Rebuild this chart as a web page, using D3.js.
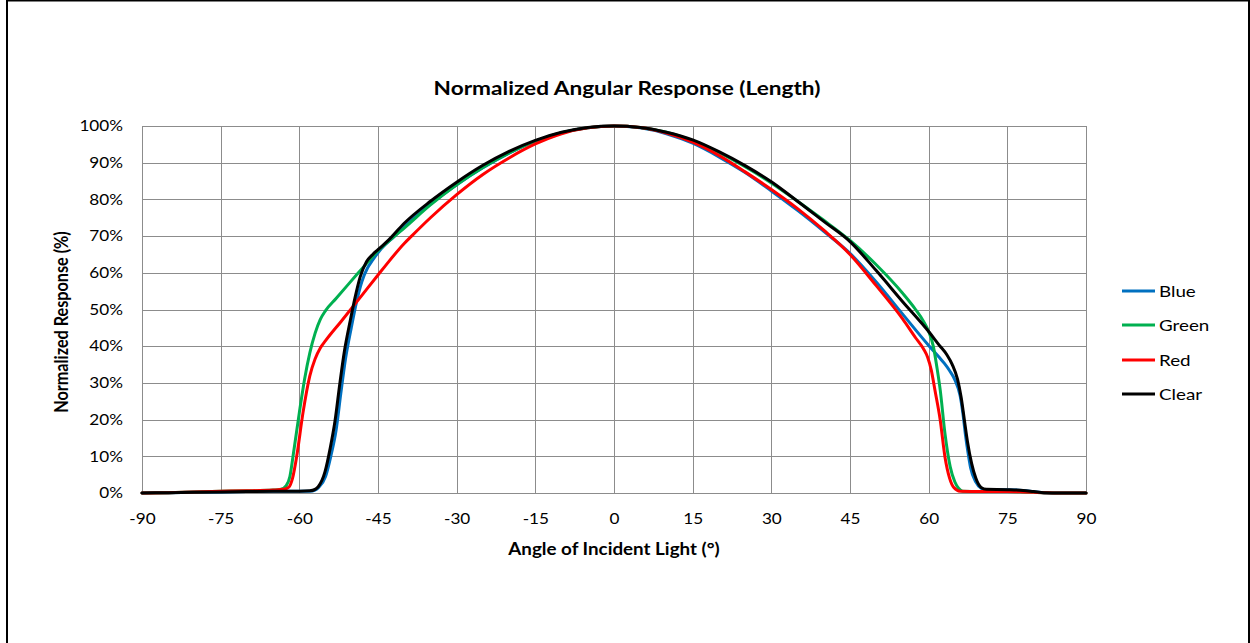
<!DOCTYPE html>
<html>
<head>
<meta charset="utf-8">
<script src="https://cdn.jsdelivr.net/npm/d3@7"></script>
<style>
  html, body { margin: 0; padding: 0; background: #fff; }
  svg { display: block; }
  text { font-family: Lato, "Open Sans", "Liberation Sans", sans-serif; fill: #000; }
</style>
</head>
<body>
<svg id="chart" width="1250" height="643"></svg>
<script>
// ---- data ----
const xTicks = [-90, -75, -60, -45, -30, -15, 0, 15, 30, 45, 60, 75, 90];
const yTicks = [0, 10, 20, 30, 40, 50, 60, 70, 80, 90, 100];
const seriesNames = ["Blue", "Green", "Red", "Clear"];
const seriesColors = ["#0070C0", "#00B050", "#FF0000", "#000000"];

const blueAngles = [-90, -85, -80, -75, -70, -65, -60, -58, -57, -56.4, -55, -54, -53, -52.1, -51.2, -50.1, -49.1, -48.1, -47, -46, -44.7, -42, -40, -35, -30, -25, -20, -15, -10, -5, 0, 5, 10, 15, 20, 25, 30, 35, 40, 45, 50, 55, 60, 62, 63, 64, 65, 66, 66.5, 67, 67.5, 68, 69, 70, 71, 75, 78, 80, 82, 85, 90];
const blueValues = [0, 0.1, 0.2, 0.3, 0.4, 0.5, 0.5, 0.5, 0.8, 1.4, 4.5, 10, 17, 27, 36.5, 45, 52, 57.5, 61.3, 63.5, 66, 69.8, 72.5, 78.7, 84, 88.6, 92.6, 95.9, 98.2, 99.55, 100, 99.5, 97.9, 95.3, 91.6, 87.3, 82.3, 77, 71.3, 65.3, 57.5, 48.8, 40.2, 37, 35.3, 33.3, 30.8, 26.5, 22, 16, 11, 6.8, 3, 1.3, 0.9, 0.9, 0.7, 0.4, 0.1, 0, 0];

const greenAngles = [-90, -85, -80, -75, -70, -65, -63.5, -62.5, -61.8, -61.2, -60, -59, -58, -57, -56, -55, -53, -51, -49, -47.2, -45.3, -42, -40, -35, -30, -25, -20, -15, -10, -5, 0, 5, 10, 15, 20, 25, 30, 35, 40, 45, 50, 55, 57.5, 59, 60, 60.9, 61.6, 62.2, 63.1, 64.1, 65, 65.7, 66.5, 70, 75, 78, 80, 82, 85, 90];
const greenValues = [0, 0.1, 0.3, 0.5, 0.6, 0.8, 1.0, 2.0, 4.5, 10, 21.9, 31, 38.2, 43.5, 47.3, 49.7, 53, 56.3, 59.6, 62.5, 65.6, 69.8, 72.2, 78.5, 84, 88.7, 92.7, 95.9, 98.2, 99.55, 100, 99.6, 98.3, 96, 92.8, 88.9, 84.5, 79.5, 74.3, 68.8, 62.2, 54.5, 50, 46.8, 44, 39.9, 34, 28.1, 16.3, 7.2, 3, 1.3, 0.5, 0.4, 0.4, 0.3, 0.2, 0.1, 0, 0];

const redAngles = [-90, -85, -80, -75, -70, -65, -63, -62, -61.3, -60.5, -59.3, -58, -57, -56, -55, -52, -48, -45, -43.6, -40, -38.6, -35, -30, -25, -20, -15, -10, -5, 0, 5, 10, 15, 20, 25, 30, 35, 40, 45, 50, 55, 57.5, 59, 59.8, 60.5, 61.2, 62.2, 63.1, 64, 64.8, 66, 70, 75, 78, 80, 82, 85, 90];
const redValues = [0, 0.1, 0.3, 0.5, 0.6, 0.8, 1.0, 1.6, 4, 10, 21.9, 31.9, 36.5, 39.5, 41.5, 46.8, 54, 59.4, 61.9, 68, 70, 75, 81.3, 86.8, 91.3, 95.1, 97.9, 99.5, 100, 99.6, 98.1, 95.6, 92, 87.5, 82.7, 77.5, 71.6, 65, 56.5, 47.5, 42.3, 39.3, 37, 33.5, 28, 19.9, 9.9, 4, 1.5, 0.5, 0.4, 0.4, 0.3, 0.2, 0.1, 0, 0];

const clearAngles = [-90, -85, -80, -75, -70, -65, -60, -58, -57, -56.4, -55.1, -54.1, -53.2, -52.3, -51.4, -50.3, -49.4, -48.4, -47.2, -46, -45, -43, -40, -35, -30, -25, -20, -15, -10, -5, 0, 5, 10, 15, 20, 25, 30, 35, 40, 45, 50, 55, 60, 62, 63.5, 64.5, 65.5, 66.2, 66.8, 67.4, 68.2, 69, 70, 71, 75, 78, 80, 82, 85, 90];
const clearValues = [0, 0.1, 0.2, 0.3, 0.4, 0.5, 0.5, 0.6, 1.0, 1.7, 5.8, 12.3, 19.6, 29.6, 38.7, 46.9, 53.1, 58.9, 63, 65, 66.3, 68.9, 73.5, 79.5, 84.7, 89.3, 93.1, 96.1, 98.3, 99.6, 100, 99.6, 98.3, 96.2, 93, 89.2, 84.8, 79.5, 74, 68.5, 60.6, 52.2, 44, 40.3, 37.6, 35, 31, 26, 20, 14, 8, 4, 1.5, 1.0, 0.9, 0.7, 0.4, 0.1, 0, 0];

const allAngles = [blueAngles, greenAngles, redAngles, clearAngles];
const allValues = [blueValues, greenValues, redValues, clearValues];

// ---- layout ----
const SX = 1.16; // horizontal text stretch seen in the reference
const svg = d3.select("#chart");
const plot = { left: 142, right: 1086, top: 126, bottom: 493 };

// outer frame
svg.append("rect").attr("x", 7).attr("y", 0.5).attr("width", 1242).attr("height", 660)
  .attr("fill", "none").attr("stroke", "#000").attr("stroke-width", 2);

const x = d3.scaleLinear().domain([-90, 90]).range([plot.left, plot.right]);
const y = d3.scaleLinear().domain([0, 100]).range([plot.bottom, plot.top]);

// grid
const grid = svg.append("g").attr("stroke", "#8c8c8c").attr("stroke-width", 1.3).attr("shape-rendering", "crispEdges");
grid.selectAll("line.v").data(xTicks).join("line")
  .attr("x1", d => Math.round(x(d)) + 0.5).attr("x2", d => Math.round(x(d)) + 0.5)
  .attr("y1", plot.top).attr("y2", plot.bottom);
grid.selectAll("line.h").data(yTicks).join("line")
  .attr("x1", plot.left).attr("x2", plot.right)
  .attr("y1", d => Math.round(y(d)) + 0.5).attr("y2", d => Math.round(y(d)) + 0.5);

// axes (labels via d3 axes, domain/ticks hidden)
const xAxis = svg.append("g").attr("transform", `translate(0,${plot.bottom})`)
  .call(d3.axisBottom(x).tickValues(xTicks).tickSize(0).tickPadding(21).tickFormat(d => String(d)));
xAxis.select(".domain").remove();
xAxis.selectAll("text").style("font-size", "14.8px").style("font-family", "Lato, 'Open Sans', sans-serif")
  .attr("fill", "#000").attr("transform", `scale(${SX},1)`);

const yAxis = svg.append("g").attr("transform", `translate(${plot.left},0)`)
  .call(d3.axisLeft(y).tickValues(yTicks).tickSize(0).tickPadding(19).tickFormat(d => d + "%"));
yAxis.select(".domain").remove();
yAxis.selectAll("text").style("font-size", "14.8px").style("font-family", "Lato, 'Open Sans', sans-serif")
  .attr("fill", "#000").attr("x", -19 / SX).attr("transform", `scale(${SX},1)`);

// lines
const line = d3.line().curve(d3.curveMonotoneX);
const lines = svg.append("g");
seriesNames.forEach((name, i) => {
  const pts = allAngles[i].map((a, j) => [x(a), y(allValues[i][j])]);
  lines.append("path").attr("d", line(pts))
    .attr("fill", "none").attr("stroke", seriesColors[i]).attr("stroke-width", 3)
    .attr("stroke-linejoin", "round").attr("stroke-linecap", "round");
});

// title
svg.append("text").attr("transform", `translate(627,95) scale(${SX},1)`).attr("text-anchor", "middle")
  .style("font-size", "19.5px").style("font-weight", "bold").text("Normalized Angular Response (Length)");

// axis titles
svg.append("text").attr("transform", `translate(614,555) scale(${SX},1)`).attr("text-anchor", "middle")
  .style("font-size", "16.2px").style("font-weight", "bold").text("Angle of Incident Light (°)");
svg.append("text").attr("transform", `translate(68,322) scale(${SX},1) rotate(-90)`).attr("text-anchor", "middle")
  .style("font-size", "16.2px").style("font-weight", "bold").text("Normalized Response (%)");

// legend
const legendY = [291, 325, 360, 394];
const legend = svg.append("g");
seriesNames.forEach((name, i) => {
  legend.append("line").attr("x1", 1122).attr("x2", 1155).attr("y1", legendY[i]).attr("y2", legendY[i])
    .attr("stroke", seriesColors[i]).attr("stroke-width", 3);
  legend.append("text").attr("transform", `translate(1159,${legendY[i] + 6}) scale(${SX},1)`)
    .style("font-size", "16.2px").text(name);
});
</script>
</body>
</html>
